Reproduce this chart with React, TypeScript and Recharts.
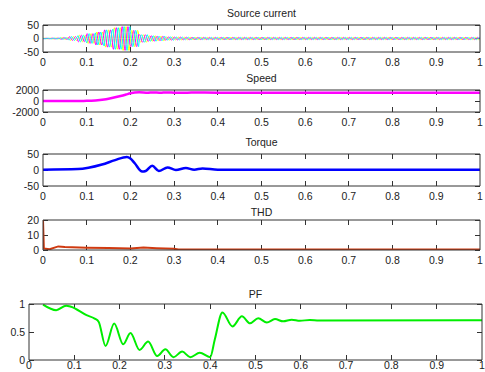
import { Line, LineChart, ReferenceLine, XAxis, YAxis } from "recharts";

const timeTicks = [0, 0.1, 0.2, 0.3, 0.4, 0.5, 0.6, 0.7, 0.8, 0.9, 1];

// source current: peak amplitude read every 20 ms (0 .. 1 s)
const currentPeaks = [
  1, 1.5, 3, 7, 12, 18, 24, 32, 40, 44, 30, 14, 10, 8, 6, 5, 4.5, 4, 4, 4, 4,
  4, 4, 4, 4, 4, 4, 4, 4, 4, 4, 4, 4, 4, 4, 4, 4, 4, 4, 4, 4, 4, 4, 4, 4, 4,
  4, 4, 4, 4, 4,
];
const supplyHz = 75;
const phaseColors = ["#ffff00", "#ff00ff", "#00ffff"];
const phaseShifts = [0, 120, 240];

// speed (rpm)
const speedTime = [0, 0.05, 0.1, 0.12, 0.14, 0.15, 0.16, 0.17, 0.18, 0.19, 0.2, 0.21, 0.22, 0.24, 0.25, 0.27, 0.28, 0.3, 0.32, 0.34, 0.4, 1];
const speedValue = [0, 0, 30, 100, 280, 420, 580, 760, 960, 1180, 1400, 1560, 1580, 1500, 1560, 1490, 1560, 1520, 1480, 1530, 1520, 1520];

// torque (N.m)
const torqueTime = [0, 0.08, 0.104, 0.135, 0.165, 0.192, 0.2, 0.21, 0.227, 0.235, 0.25, 0.265, 0.285, 0.304, 0.327, 0.346, 0.365, 0.4, 1];
const torqueValue = [1, 3, 7, 17, 31, 41, 36, 21, -5, -3, 13, -3, 8, 0, 6, 1, 5, 1, 1];

// THD (%)
const thdTime = [0, 0.002, 0.015, 0.035, 0.05, 0.1, 0.15, 0.2, 0.23, 0.26, 0.3, 0.31, 1];
const thdValue = [20, 1, 0.5, 2.4, 2.0, 1.5, 1.3, 1.0, 1.6, 1.2, 0.8, 0.3, 0.3];

// power factor
const pfTime = [
  0.031, 0.06, 0.082, 0.093, 0.127, 0.145, 0.154, 0.169, 0.188, 0.208, 0.224,
  0.244, 0.263, 0.283, 0.301, 0.319, 0.338, 0.356, 0.377, 0.4, 0.41, 0.427,
  0.449, 0.47, 0.488, 0.506, 0.525, 0.543, 0.561, 0.58, 0.598, 0.62, 0.64, 1,
];
const pfValue = [
  0.99, 0.89, 0.97, 0.95, 0.8, 0.74, 0.68, 0.25, 0.65, 0.28, 0.48, 0.18, 0.33,
  0.07, 0.19, 0.05, 0.15, 0.05, 0.13, 0.05, 0.36, 0.85, 0.6, 0.78, 0.655, 0.745,
  0.67, 0.73, 0.69, 0.72, 0.7, 0.715, 0.705, 0.71,
];

const boxColor = "#333";
const textColor = "#222";
const font = "'Liberation Sans', Arial, sans-serif";
const tickLen = 5;

const currentData: any[] = [];
{
  const step = 1 / (supplyHz * 12);
  for (let i = 0; i * step <= 1.0000001; i++) {
    const t = i * step;
    const amp = currentPeaks[Math.min(currentPeaks.length - 1, Math.floor(t / 0.02))];
    const row: any = { t };
    phaseShifts.forEach((deg, k) => {
      row["i" + k] = amp * Math.sin(2 * Math.PI * supplyHz * t - (deg * Math.PI) / 180);
    });
    currentData.push(row);
  }
}
const toRows = (ts: number[], vs: number[]) => ts.map((t, i) => ({ t, v: vs[i] }));

interface LineDef {
  key: string;
  color: string;
  width: number;
  curve?: "linear" | "monotone";
}

interface PanelProps {
  title: string;
  titleY: number;
  plotTop: number;
  plotHeight: number;
  left: number;
  right: number;
  data: any[];
  lines: LineDef[];
  yDomain: [number, number];
  yTicks: number[];
  labelGap?: number;
}

function Panel({ title, titleY, plotTop, plotHeight, left, right, data, lines, yDomain, yTicks, labelGap = 7 }: PanelProps) {
  const tickStyle = { fill: textColor, fontSize: 10.5, fontFamily: font };
  const [yMin, yMax] = yDomain;
  const dy = ((yMax - yMin) * tickLen) / plotHeight;
  const dx = tickLen / (right - left);
  // MATLAB-style inward tick marks on all four edges
  const innerTicks = [
    ...timeTicks.slice(1, -1).flatMap((t) => [
      [{ x: t, y: yMin }, { x: t, y: yMin + dy }],
      [{ x: t, y: yMax }, { x: t, y: yMax - dy }],
    ]),
    ...yTicks.flatMap((v) => [
      [{ x: 0, y: v }, { x: dx, y: v }],
      [{ x: 1, y: v }, { x: 1 - dx, y: v }],
    ]),
  ];
  return (
    <>
      <div
        style={{
          position: "absolute",
          left,
          width: right - left,
          top: titleY - 7,
          lineHeight: "14px",
          textAlign: "center",
          fontSize: 10.5,
          fontFamily: font,
          color: textColor,
        }}
      >
        {title}
      </div>
      <div style={{ position: "absolute", left: 0, top: plotTop - 5 }}>
        <LineChart
          width={485}
          height={plotHeight + 5 + 22}
          data={data}
          margin={{ top: 4, right: 0, left: 0, bottom: 0 }}
        >
          <XAxis
            dataKey="t"
            type="number"
            domain={[0, 1]}
            allowDataOverflow
            ticks={timeTicks}
            interval={0}
            tickSize={0}
            tickMargin={labelGap}
            tickLine={false}
            height={22}
            stroke={boxColor}
            tick={tickStyle}
          />
          <XAxis
            xAxisId="top"
            dataKey="t"
            orientation="top"
            type="number"
            domain={[0, 1]}
            allowDataOverflow
            height={1}
            stroke={boxColor}
            tick={false}
            tickLine={false}
          />
          <YAxis
            type="number"
            domain={yDomain}
            allowDataOverflow
            ticks={yTicks}
            interval={0}
            width={left}
            tickSize={0}
            tickMargin={4}
            tickLine={false}
            stroke={boxColor}
            tick={tickStyle}
          />
          <YAxis
            yAxisId="right"
            orientation="right"
            type="number"
            domain={yDomain}
            allowDataOverflow
            width={485 - right}
            stroke={boxColor}
            tick={false}
            tickLine={false}
          />
          {/* invisible series so the top and right axes get their scales */}
          <Line
            xAxisId="top"
            yAxisId="right"
            dataKey={lines[0].key}
            stroke="none"
            dot={false}
            activeDot={false}
            isAnimationActive={false}
          />
          {innerTicks.map((seg, i) => (
            <ReferenceLine
              key={"tk" + i}
              segment={seg}
              stroke={boxColor}
              strokeWidth={1}
              shapeRendering="crispEdges"
              ifOverflow="visible"
            />
          ))}
          {lines.map((l) => (
            <Line
              key={l.key}
              type={l.curve || "linear"}
              dataKey={l.key}
              stroke={l.color}
              strokeWidth={l.width}
              dot={false}
              activeDot={false}
              isAnimationActive={false}
            />
          ))}
        </LineChart>
      </div>
    </>
  );
}

export default function App() {
  return (
    <div style={{ position: "absolute", left: 0, top: 0, width: 485, height: 372, background: "#fff" }}>
      <Panel
        title="Source current"
        titleY={13}
        plotTop={25}
        plotHeight={27}
        left={43}
        right={480}
        data={currentData}
        lines={phaseColors.map((c, k) => ({ key: "i" + k, color: c, width: 1 }))}
        yDomain={[-50, 50]}
        yTicks={[-50, 0, 50]}
      />
      <Panel
        title="Speed"
        titleY={77.5}
        plotTop={90}
        plotHeight={22}
        left={43}
        right={480}
        data={toRows(speedTime, speedValue)}
        lines={[{ key: "v", color: "#ff00ff", width: 2.5, curve: "monotone" }]}
        yDomain={[-2000, 2000]}
        yTicks={[-2000, 0, 2000]}
      />
      <Panel
        title="Torque"
        titleY={142}
        plotTop={154}
        plotHeight={32}
        left={43}
        right={480}
        data={toRows(torqueTime, torqueValue)}
        lines={[{ key: "v", color: "#0000ff", width: 2.5, curve: "monotone" }]}
        yDomain={[-50, 50]}
        yTicks={[-50, 0, 50]}
      />
      <Panel
        title="THD"
        titleY={212}
        plotTop={220}
        plotHeight={30}
        left={43}
        right={480}
        data={toRows(thdTime, thdValue)}
        lines={[{ key: "v", color: "#d03a10", width: 2 }]}
        yDomain={[0, 20]}
        yTicks={[0, 10, 20]}
      />
      <Panel
        title="PF"
        titleY={294}
        plotTop={304}
        plotHeight={56}
        left={29}
        right={482}
        data={toRows(pfTime, pfValue)}
        lines={[{ key: "v", color: "#00ee00", width: 2, curve: "monotone" }]}
        yDomain={[0, 1]}
        yTicks={[0, 0.5, 1]}
        labelGap={2}
      />
    </div>
  );
}
